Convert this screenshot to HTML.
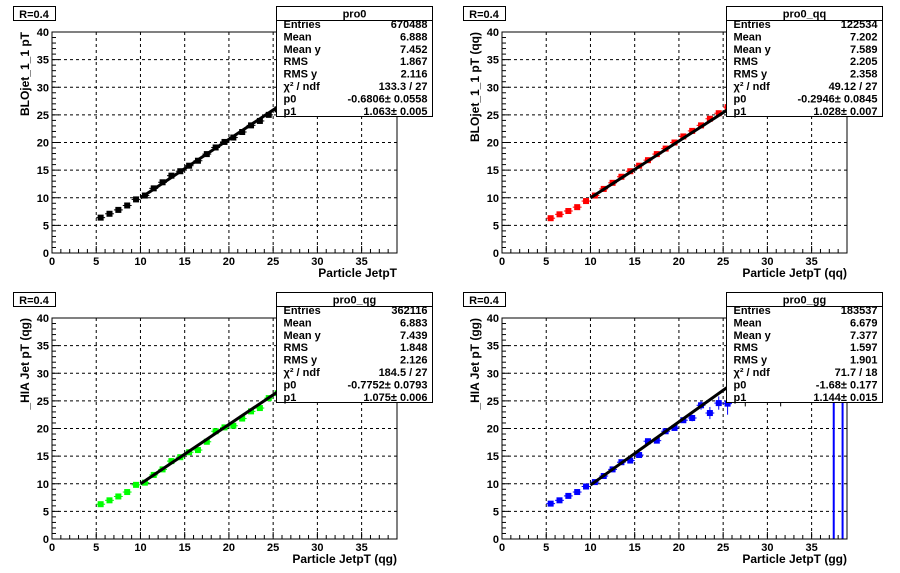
<!DOCTYPE html>
<html><head><meta charset="utf-8"><style>
html,body{margin:0;padding:0;background:#fff}
svg{display:block}
text{font-family:"Liberation Sans",sans-serif;font-weight:bold}
</style></head><body>
<svg id="c" width="900" height="573" viewBox="0 0 900 573" xmlns="http://www.w3.org/2000/svg"></svg>
<script>
// ---- data ----
const xTop = [5.5,6.5,7.5,8.5,9.5,10.5,11.5,12.5,13.5,14.5,15.5,16.5,17.5,18.5,19.5,20.5,21.5,22.5,23.5,24.5,25.5];
const yPro0 = [6.4,7.1,7.8,8.6,9.7,10.4,11.7,12.8,14.0,14.8,15.8,16.7,17.9,19.1,20.1,20.9,21.9,23.1,23.9,25.0,26.0];
const yQq   = [6.3,7.0,7.6,8.3,9.4,10.4,11.6,12.7,13.8,14.8,15.8,16.8,17.9,18.9,20.0,21.1,22.1,23.1,24.3,25.3,26.4];
const yQg   = [6.3,7.0,7.7,8.5,9.8,10.2,11.6,12.6,14.1,14.8,15.7,16.1,17.6,19.5,20.2,20.5,21.8,23.1,23.7,25.5,26.4];
const yGg   = [6.4,7.0,7.8,8.5,9.5,10.3,11.4,12.6,13.9,14.2,15.2,17.7,17.8,19.5,20.1,21.5,21.9,24.2,22.8,24.6,24.5];
const eGg   = [0.1,0.1,0.1,0.1,0.1,0.15,0.2,0.2,0.2,0.2,0.3,0.3,0.3,0.3,0.4,0.5,0.6,0.8,1.1,1.2,2.0];
const xGgExtra = [27.5,31.5,37.5,38.5];
const yGgExtra = [27,30,22,22];
const eGgExtra = [3,6,22,22];
const fitP0 = [-0.6806,-0.2946,-0.7752,-1.68];
const fitP1 = [1.063,1.028,1.075,1.144];
const xTicks = [0,5,10,15,20,25,30,35];
const yTicks = [0,5,10,15,20,25,30,35,40];
const statNames = ["pro0","pro0_qq","pro0_qg","pro0_gg"];
const statLabels = ["Entries","Mean","Mean y","RMS","RMS y","\u03c7\u00b2 / ndf","p0","p1"];
const statVals = [
 ["670488","6.888","7.452","1.867","2.116","133.3 / 27","-0.6806\u00b1 0.0558","1.063\u00b1 0.005"],
 ["122534","7.202","7.589","2.205","2.358","49.12 / 27","-0.2946\u00b1 0.0845","1.028\u00b1 0.007"],
 ["362116","6.883","7.439","1.848","2.126","184.5 / 27","-0.7752\u00b1 0.0793","1.075\u00b1 0.006"],
 ["183537","6.679","7.377","1.597","1.901","71.7 / 18","-1.68\u00b1 0.177","1.144\u00b1 0.015"]];
const yTitles = ["BLOjet_1_1 pT","BLOjet_1_1 pT (qq)","_HIA Jet pT (qg)","_HIA Jet pT (gg)"];
const xTitles = ["Particle JetpT","Particle JetpT (qq)","Particle JetpT (qg)","Particle JetpT (gg)"];
const colors = ["#000000","#ff0000","#00ff00","#0000ff"];
const ySeries = [yPro0,yQq,yQg,yGg];

const NS="http://www.w3.org/2000/svg";
const svg=document.getElementById('c');
function mk(tag,attrs,parent,txt){const e=document.createElementNS(NS,tag);for(const k in attrs)e.setAttribute(k,attrs[k]);if(txt!==undefined)e.textContent=txt;(parent||svg).appendChild(e);return e;}

const pads=[[0,0],[450,0],[0,286],[450,286]];
pads.forEach((p,i)=>{
  const ox=p[0],oy=p[1];
  const g=mk('g',{});
  
  
  const L=ox+52,R=ox+397,T=oy+32,B=oy+253;
  const sx=v=>L+v*(R-L)/39, sy=v=>B-v*(B-T)/40;
  xTicks.forEach(t=>{if(t>0){const l=mk('line',{x1:sx(t),x2:sx(t),y1:T,y2:B,stroke:'#000','stroke-dasharray':'3,3','stroke-width':1},g);}});
  yTicks.forEach(t=>{if(t>0&&t<40){const l=mk('line',{x1:L,x2:R,y1:sy(t),y2:sy(t),stroke:'#000','stroke-dasharray':'3,3','stroke-width':1},g);}});
  for(let v=0;v<=39;v++){const maj=v%5==0;mk('line',{x1:sx(v),x2:sx(v),y1:B,y2:B-(maj?7:4),stroke:'#000'},g);}
  for(let v=0;v<=40;v++){const maj=v%5==0;mk('line',{x1:L,x2:L+(maj?7:4),y1:sy(v),y2:sy(v),stroke:'#000'},g);}
  xTicks.forEach(t=>{const e=mk('text',{x:sx(t),y:B+12,'font-size':11,'text-anchor':'middle'},g,String(t));});
  yTicks.forEach(t=>{const e=mk('text',{x:L-3,y:sy(t)+4,'font-size':11,'text-anchor':'end'},g,String(t));});
  const xt=mk('text',{x:R,y:oy+277,'font-size':12,'text-anchor':'end'},g,xTitles[i]);
  
  const yt=mk('text',{x:0,y:0,'font-size':12,'text-anchor':'end',transform:`translate(${ox+29},${T}) rotate(-90)`},g,yTitles[i]);
  
  const col=colors[i], ys=ySeries[i];
  xTop.forEach((x,j)=>{
    const y=ys[j];const e=(i==3)?eGg[j]:0.15;
    const pg=mk('g',{},g);
    
    mk('line',{x1:sx(x-0.5),x2:sx(x+0.5),y1:sy(y),y2:sy(y),stroke:col,'stroke-width':1},pg);
    mk('line',{x1:sx(x),x2:sx(x),y1:sy(y-e),y2:sy(y+e),stroke:col,'stroke-width':1},pg);
    mk('rect',{x:sx(x)-3,y:sy(y)-3,width:6,height:6,fill:col},pg);
  });
  if(i==3){
    xGgExtra.forEach((x,j)=>{
      const y=yGgExtra[j],e=eGgExtra[j];
      const l=mk('line',{x1:sx(x),x2:sx(x),y1:sy(Math.min(40,y+e)),y2:sy(Math.max(0,y-e)),stroke:j>=2?'#0000ff':'#000','stroke-width':j>=2?2:1},g);
      
    });
  }
  const x0=10,x1=Math.min(39,(40-fitP0[i])/fitP1[i]);
  const fl=mk('line',{x1:sx(x0),y1:sy(fitP0[i]+fitP1[i]*x0),x2:sx(x1),y2:sy(fitP0[i]+fitP1[i]*x1),stroke:'#000','stroke-width':3},g);
  
  const fr=mk('rect',{x:L,y:T,width:R-L,height:B-T,fill:'none',stroke:'#000','stroke-width':1},g);
  
  const rb=mk('g',{},g);
  mk('rect',{x:ox+13.5,y:oy+6.5,width:42,height:14,fill:'#fff',stroke:'#000'},rb);
  mk('text',{x:ox+34,y:oy+18,'font-size':11,'text-anchor':'middle'},rb,'R=0.4');
  const sb=mk('g',{},g);
  const bx=ox+276.5,by=oy+6.5,bw=156,bh=110;
  mk('rect',{x:bx,y:by,width:bw,height:bh,fill:'#fff',stroke:'#000'},sb);
  mk('line',{x1:bx,x2:bx+bw,y1:by+14,y2:by+14,stroke:'#000'},sb);
  mk('text',{x:bx+bw/2,y:by+11,'font-size':11,'text-anchor':'middle'},sb,statNames[i]);
  statLabels.forEach((lab,k)=>{
    const yy=by+21.5+k*12.4;
    mk('text',{x:bx+7,y:yy,'font-size':11},sb,lab);
    mk('text',{x:bx+bw-5,y:yy,'font-size':11,'text-anchor':'end'},sb,statVals[i][k]);
  });
});
</script>
</body></html>
